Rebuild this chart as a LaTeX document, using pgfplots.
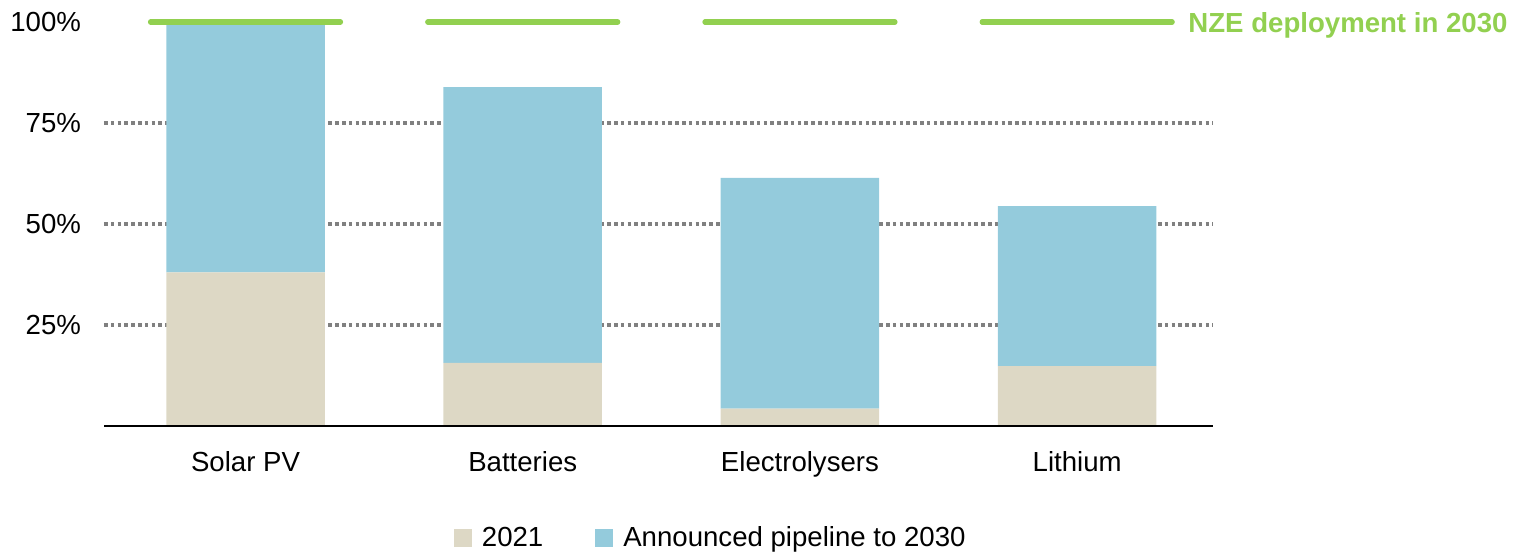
\documentclass[border=0pt]{standalone}
\usepackage{pgfplots}
\pgfplotsset{compat=1.18}
\usepackage{fontspec}
\setmainfont{Liberation Sans}

\definecolor{cBeige}{RGB}{221,216,197}
\definecolor{cBlue}{RGB}{148,203,220}
\definecolor{cGreen}{RGB}{146,208,80}
\definecolor{cGrid}{RGB}{128,128,128}

\newcommand{\chartfont}{\fontsize{13.8}{16}\selectfont}

\begin{document}
\begin{tikzpicture}
\pgfplotsset{
  base/.style={
    scale only axis,
    width=554.5pt, height=202pt,
    at={(0,0)}, anchor=south west,
    xmin=-0.5105, xmax=3.49,
    ymin=0, ymax=100,
    clip=false,
  },
}
\begin{axis}[
  base,
  ybar stacked,
  bar width=79.25pt,
  axis line style={draw=none},
  axis x line*=bottom,
  axis y line*=left,
  xtick={0,1,2,3},
  xticklabels={Solar PV, Batteries, Electrolysers, Lithium},
  ytick={25,50,75},
  extra y ticks={100},
  extra y tick style={grid=none},
  yticklabel={\pgfmathprintnumber{\tick}\%},
  /pgf/number format/assume math mode=true,
  major tick length=0pt,
  ymajorgrids=true,
  major grid style={draw=cGrid, line width=1.6pt, dash pattern=on 1.8pt off 1.6pt},
  ticklabel style={font=\chartfont},
  yticklabel style={xshift=-8pt},
  xticklabel style={yshift=-9pt},
  legend style={draw=none, font=\chartfont, legend columns=2,
    at={(0.548,-0.277)}, anchor=center,
    /tikz/every even column/.append style={column sep=24pt}},
  legend image code/.code={\fill[#1] (0pt,-4.5pt) rectangle (9pt,4.5pt); \path (12pt,0pt);},
  legend cell align=left,
]
\addplot[draw=none, fill=cBeige] coordinates {(0,38.0) (1,15.6) (2,4.3) (3,14.8)};
\addlegendentry{2021}
\addplot[draw=none, fill=cBlue] coordinates {(0,62.0) (1,68.3) (2,57.1) (3,39.6)};
\addlegendentry{Announced pipeline to 2030}
\end{axis}
\begin{axis}[
  base,
  axis lines=none,
]
\draw[black, line width=1pt] (axis cs:-0.5105,0) -- (axis cs:3.49,0);
\addplot[cGreen, line width=2.6pt, line cap=round] coordinates {(-0.3427,100) (0.3427,100)};
\addplot[cGreen, line width=2.6pt, line cap=round] coordinates {(0.6573,100) (1.3427,100)};
\addplot[cGreen, line width=2.6pt, line cap=round] coordinates {(1.6573,100) (2.3427,100)};
\addplot[cGreen, line width=2.6pt, line cap=round] coordinates {(2.6573,100) (3.3427,100)}
  node[pos=1, anchor=west, xshift=3.5pt, yshift=-1.8pt, font=\chartfont\bfseries, text=cGreen] {NZE deployment in 2030};
\end{axis}
\pgfresetboundingbox
\path[use as bounding box] (-52pt,-63pt) rectangle (704.5pt,213pt);
\end{tikzpicture}
\end{document}
